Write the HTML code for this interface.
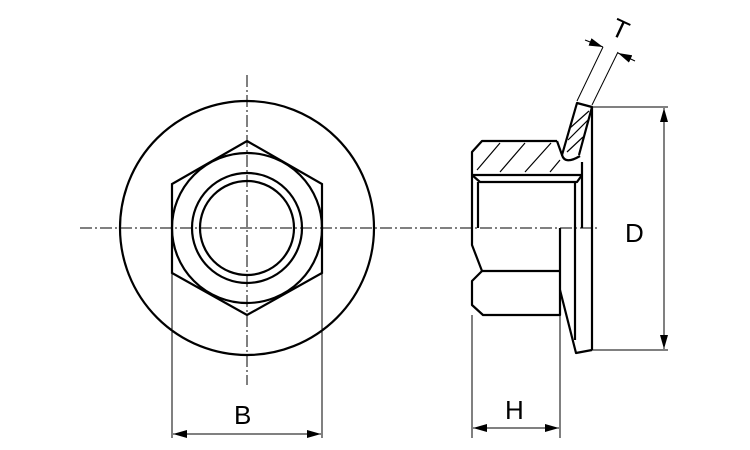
<!DOCTYPE html>
<html><head><meta charset="utf-8"><style>
html,body{margin:0;padding:0;background:#fff;}
svg{display:block;}
text{font-family:"Liberation Sans",sans-serif;font-size:26px;fill:#000;}
</style></head><body>
<svg width="750" height="450" viewBox="0 0 750 450" xmlns="http://www.w3.org/2000/svg">
<defs>
<marker id="a" markerWidth="14" markerHeight="8" refX="14" refY="4" orient="auto" markerUnits="userSpaceOnUse"><path d="M0,0 L14,4 L0,8 Z" fill="#000"/></marker>
<marker id="as" markerWidth="14" markerHeight="8" refX="0" refY="4" orient="auto" markerUnits="userSpaceOnUse"><path d="M14,0 L0,4 L14,8 Z" fill="#000"/></marker>
</defs>
<g fill="none" stroke="#000">
<!-- centerlines -->
<line x1="80" y1="228" x2="600" y2="228" stroke-width="1" stroke-dasharray="12,3,2,3"/>
<line x1="247" y1="75" x2="247" y2="385" stroke-width="1" stroke-dasharray="12,3,2,3"/>
<!-- left view -->
<g stroke-width="2.2">
<circle cx="247" cy="228" r="127"/>
<polygon points="247,141 322,184 322,273 247,315 172,273 172,184"/>
<circle cx="247" cy="228" r="75"/>
<circle cx="247" cy="228" r="55"/>
<circle cx="247" cy="228" r="47"/>
</g>
<!-- B dim -->
<g stroke-width="1">
<line x1="172" y1="273" x2="172" y2="438"/>
<line x1="322" y1="273" x2="322" y2="438"/>
<line x1="173" y1="434" x2="321" y2="434" marker-end="url(#a)" marker-start="url(#as)"/>
</g>
<!-- right view -->
<g stroke-width="2.2" stroke-linejoin="round">
<polyline points="557,141 482,141 472,152 472,245 482,271 472,281 472,305 483,315 560,315 560,228"/>
<line x1="472" y1="175" x2="582" y2="175"/>
<polyline points="472,175 480,182 577,182 582,175"/>
<line x1="478" y1="182" x2="478" y2="228"/>
<line x1="482" y1="271" x2="560" y2="271"/>
<line x1="575" y1="228" x2="575" y2="182"/>
<line x1="582" y1="228" x2="582" y2="162"/>
<!-- flange -->
<line x1="592" y1="107" x2="592" y2="350"/>
<polyline points="560,290 576,353 592,350"/>
<line x1="575" y1="228" x2="575" y2="340"/>
<!-- tab -->
<polyline points="557,141 562,155 577,103 592,107 579,155"/>
<path d="M562,155 Q565,165 580,156"/>
</g>
<!-- hatching -->
<g stroke-width="1.2">
<line x1="477" y1="170" x2="500" y2="143"/>
<line x1="500" y1="172" x2="525" y2="143"/>
<line x1="525" y1="172" x2="551" y2="143"/>
<line x1="550" y1="172" x2="560" y2="160"/>
<line x1="568" y1="140" x2="588" y2="120"/>
<line x1="570" y1="128" x2="589" y2="111"/>
<line x1="567" y1="152" x2="583" y2="137"/>
</g>
<!-- T dim -->
<g stroke-width="1">
<line x1="577" y1="101" x2="603" y2="47"/>
<line x1="592" y1="105" x2="618" y2="52"/>
<line x1="585" y1="40" x2="603" y2="47" marker-end="url(#a)"/>
<line x1="635" y1="61" x2="618" y2="53" marker-end="url(#a)"/>
</g>
<!-- H dim -->
<g stroke-width="1">
<line x1="472" y1="315" x2="472" y2="438"/>
<line x1="560" y1="315" x2="560" y2="438"/>
<line x1="473" y1="428" x2="559" y2="428" marker-end="url(#a)" marker-start="url(#as)"/>
</g>
<!-- D dim -->
<g stroke-width="1">
<line x1="592" y1="107" x2="668" y2="107"/>
<line x1="592" y1="350" x2="668" y2="350"/>
<line x1="664" y1="108" x2="664" y2="349" marker-end="url(#a)" marker-start="url(#as)"/>
</g>
</g>
<text x="234" y="424">B</text>
<text x="505" y="419">H</text>
<text x="625" y="242">D</text>
<text x="612" y="38" transform="rotate(25 620 30)">T</text>
</svg>
</body></html>
